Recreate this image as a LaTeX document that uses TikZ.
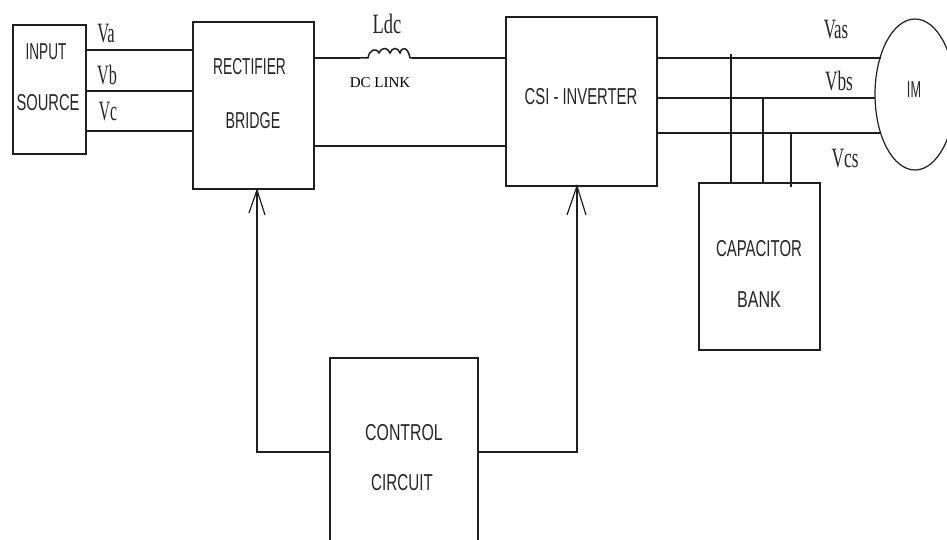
\documentclass[tikz,border=0pt]{standalone}
\usepackage{fontspec}
\setsansfont{Liberation Sans}
\setmainfont{Liberation Serif}
\usetikzlibrary{shapes.geometric}
\newcommand{\nrw}[2][0.8]{\scalebox{#1}[1]{#2}}
\tikzset{
  x=1pt,y=-1pt,
  blk/.style={draw=black!88,line width=1.8pt,inner sep=0,outer sep=0,fill=none},
  wire/.style={draw=black!88,line width=1.8pt},
  thin wire/.style={draw=black!88,line width=1.5pt},
  lbl/.style={font=\fontsize{23}{23}\selectfont\sffamily,text=black!85,inner sep=0},
  vlbl/.style={font=\fontsize{28}{28}\selectfont\rmfamily,text=black!85,inner sep=0},
  vee/.style={draw=black!88,line width=1.2pt}
}
\begin{document}
\begin{tikzpicture}
\clip (0,0) rectangle (947,540);
\fill[white] (0,0) rectangle (947,540);
% blocks
\node[blk,minimum width=73pt,minimum height=129pt] (input) at (49.5,89.5) {};
\node[blk,minimum width=121pt,minimum height=167pt] (rect) at (253.5,105.5) {};
\node[blk,minimum width=151pt,minimum height=169pt] (csi) at (581.5,101.5) {};
\node[blk,minimum width=121pt,minimum height=167pt] (cap) at (759.5,266.5) {};
\node[blk,minimum width=148pt,minimum height=220pt] (ctrl) at (404,468) {};
\node[ellipse,draw=black!88,line width=1.2pt,inner sep=0,outer sep=0,minimum width=80pt,minimum height=151pt] (im) at (915,94.5) {};
% helper levels
\coordinate (ya) at (0,50);
\coordinate (yb) at (0,91);
\coordinate (yc) at (0,131);
\coordinate (yp) at (0,58);
\coordinate (yn) at (0,146);
\coordinate (yq) at (0,98);
\coordinate (yr) at (0,133);
\coordinate (yctl) at (0,452);
\coordinate (ls) at (360,58);
\coordinate (le) at (412,58);
\coordinate (ima) at (881,58);
\coordinate (imc) at (881,133);
\coordinate (t1) at (731,54);
\coordinate (t2) at (763,98);
\coordinate (t3) at (791,133);
\coordinate (b3) at (791,187);
\coordinate (ar) at (257,190);
\coordinate (ai) at (577,186);
% input wires
\draw[wire] (input.east |- ya) -- (rect.west |- ya);
\draw[wire] (input.east |- yb) -- (rect.west |- yb);
\draw[wire] (input.east |- yc) -- (rect.west |- yc);
% dc link
\draw[wire] (rect.east |- yp) -- (ls);
\draw[wire] (le) -- (csi.west |- yp);
\draw[thin wire] (ls) -- (368,58)
  .. controls (369,50) and (376,47) .. (379,53)
  .. controls (381,47) and (388,47) .. (390,53)
  .. controls (392,47) and (398,47) .. (400,53)
  .. controls (402,46) and (408,47) .. (410,58) -- (le);
\draw[wire] (rect.east |- yn) -- (csi.west |- yn);
% inverter outputs
\draw[wire] (csi.east |- yp) -- (ima);
\draw[wire] (csi.east |- yq) -- (im.west |- yq);
\draw[wire] (csi.east |- yr) -- (imc);
% capacitor taps
\draw[thin wire] (t1) -- (t1 |- cap.north);
\draw[thin wire] (t2) -- (t2 |- cap.north);
\draw[thin wire] (t3) -- (b3);
% control
\draw[wire] (ctrl.west |- yctl) -| (ar);
\draw[wire] (ctrl.east |- yctl) -| (ai);
\draw[vee] (249,213) -- (ar) -- (265,215);
\draw[vee] (567,215) -- (ai) -- (586,215);
% labels
\node[lbl] (tinput) at (46,52) {\nrw[0.59]{INPUT}};
\node[lbl] (tsource) at (48,103) {\nrw[0.64]{SOURCE}};
\node[lbl] (trect) at (249.5,67) {\nrw[0.6]{RECTIFIER}};
\node[lbl] (tbridge) at (253,121) {\nrw[0.62]{BRIDGE}};
\node[lbl] (tcsi) at (581,97) {\nrw[0.645]{CSI - INVERTER}};
\node[lbl] (tcapa) at (759,249) {\nrw[0.65]{CAPACITOR}};
\node[lbl] (tbank) at (759,300) {\nrw[0.7]{BANK}};
\node[lbl] (tctrl) at (404,433) {\nrw[0.69]{CONTROL}};
\node[lbl] (tcirc) at (402,483) {\nrw[0.66]{CIRCUIT}};
\node[lbl] (tim) at (914,90) {\nrw[0.55]{IM}};
\node[vlbl] (tva) at (106,34) {\nrw[0.59]{Va}};
\node[vlbl] (tvb) at (107,75) {\nrw[0.58]{Vb}};
\node[vlbl] (tvc) at (108,112) {\nrw[0.56]{Vc}};
\node[vlbl] (tldc) at (387,24) {\nrw[0.66]{Ldc}};
\node[font=\fontsize{15}{15}\selectfont\rmfamily,inner sep=0] (tlink) at (380,83) {DC LINK};
\node[vlbl] (tvas) at (836,30) {\nrw[0.6]{Vas}};
\node[vlbl] (tvbs) at (839,81) {\nrw[0.62]{Vbs}};
\node[vlbl] (tvcs) at (845,159) {\nrw[0.62]{Vcs}};
\end{tikzpicture}
\end{document}
